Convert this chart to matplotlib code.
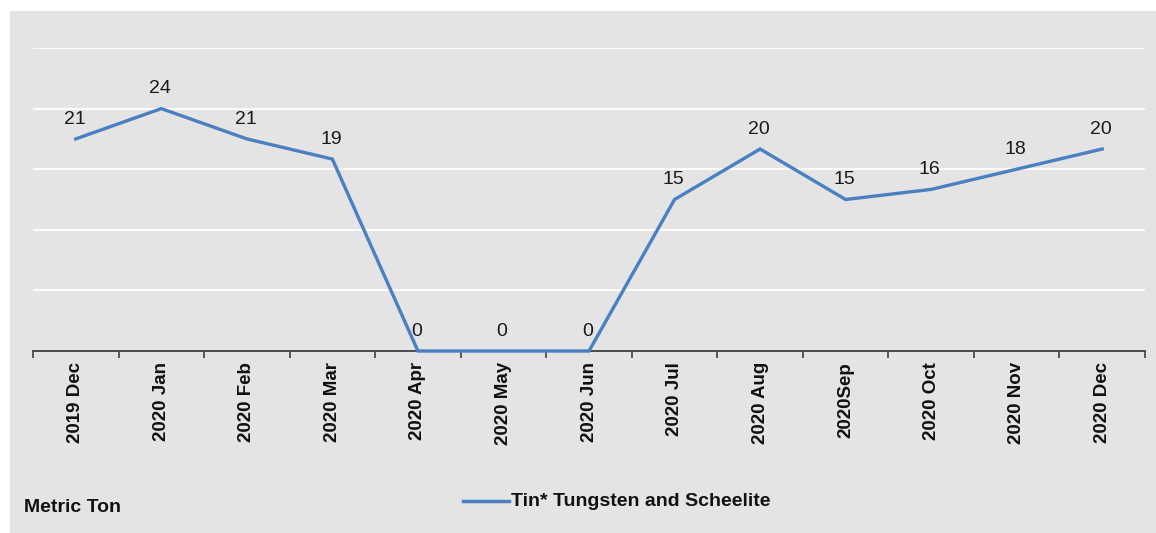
import matplotlib.pyplot as plt
from matplotlib.lines import Line2D
import numpy as np

plt.rcParams['font.family'] = ['Liberation Sans', 'DejaVu Sans']

# data
months = ['2019 Dec', '2020 Jan', '2020 Feb', '2020 Mar', '2020 Apr', '2020 May',
          '2020 Jun', '2020 Jul', '2020 Aug', '2020Sep', '2020 Oct', '2020 Nov', '2020 Dec']
tin_tungsten = [21, 24, 21, 19, 0, 0, 0, 15, 20, 15, 16, 18, 20]
series_name = 'Tin* Tungsten and Scheelite'
unit_label = 'Metric Ton'

bg = '#e4e4e4'
blue = '#4a7fc1'

fig = plt.figure(figsize=(11.56, 5.33), dpi=100)
fig.patch.set_facecolor('white')
# gray chart area
fig.patches.append(plt.Rectangle((10 / 1156, 0), 1 - 10 / 1156, 1 - 11 / 533,
                                 transform=fig.transFigure, facecolor=bg,
                                 edgecolor='none', zorder=-5))

ax = fig.add_axes([33 / 1156, 1 - 351 / 533, (1145 - 33) / 1156, (351 - 48) / 533])
ax.set_zorder(2)
ax.set_facecolor(bg)
x = np.arange(len(months))
ax.plot(x, tin_tungsten, color=blue, lw=2.4, solid_joinstyle='miter', zorder=3, clip_on=False)

for xi, v in zip(x, tin_tungsten):
    ax.annotate(str(v), (xi, v), xytext=(-1, 8), textcoords='offset points',
                ha='center', va='bottom', fontsize=14, color='#1a1a1a')

ax.set_xlim(-0.5, len(months) - 0.5)
ax.set_ylim(0, 30)
ax.set_yticks(np.arange(6, 31, 6))
ax.yaxis.grid(True, color='white', lw=1.3)
ax.set_axisbelow(True)
ax.tick_params(axis='y', left=False, labelleft=False)

ax.set_xticks(x)
ax.set_xticklabels(months, rotation=90, fontsize=13.5, fontweight='bold', color='#111111')
ax.set_xticks(np.arange(-0.5, len(months)), minor=True)
ax.tick_params(axis='x', which='major', length=0, pad=8)
ax.tick_params(axis='x', which='minor', length=5, width=1.2, color='#404040')

for s in ['top', 'right', 'left']:
    ax.spines[s].set_visible(False)
ax.spines['bottom'].set_color('#404040')
ax.spines['bottom'].set_linewidth(1.3)

fig.text(24 / 1156, 1 - 508 / 533, unit_label, fontsize=14, fontweight='bold',
         color='#111111', va='center', ha='left')

fig.add_artist(Line2D([463 / 1156, 509 / 1156], [1 - 501 / 533, 1 - 501 / 533],
                      transform=fig.transFigure, color=blue, lw=2.5))
fig.text(511 / 1156, 1 - 501 / 533, series_name, fontsize=14, fontweight='bold',
         color='#111111', va='center', ha='left')

fig.savefig('out.png', dpi=100, facecolor=fig.get_facecolor())
